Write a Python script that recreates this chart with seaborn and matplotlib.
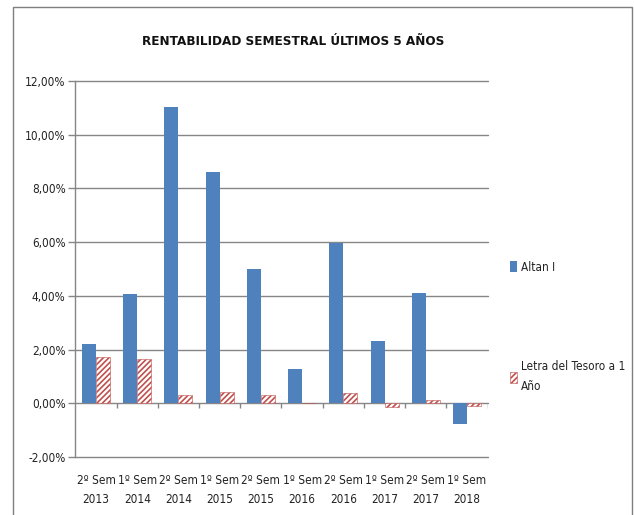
import matplotlib.pyplot as plt
import matplotlib.patches as mpatches
import pandas as pd
import seaborn as sns

# Data (% return per semester)
periods = ['2º Sem\n2013', '1º Sem\n2014', '2º Sem\n2014', '1º Sem\n2015', '2º Sem\n2015',
           '1º Sem\n2016', '2º Sem\n2016', '1º Sem\n2017', '2º Sem\n2017', '1º Sem\n2018']
altan = [2.20, 4.05, 11.02, 8.62, 4.98, 1.29, 5.98, 2.30, 4.12, -0.76]
letra = [1.73, 1.64, 0.30, 0.42, 0.30, 0.0, 0.39, -0.13, 0.12, -0.09]
series = ['Altan I', 'Letra del Tesoro a 1\nAño']
yticks = [-2, 0, 2, 4, 6, 8, 10, 12]

df = pd.DataFrame({
    'periodo': periods * 2,
    'valor': altan + letra,
    'serie': [series[0]] * len(periods) + [series[1]] * len(periods),
})

sns.set_theme(style='white')
plt.rcParams['font.family'] = ['DejaVu Sans']
plt.rcParams['font.stretch'] = 'condensed'
plt.rcParams['hatch.linewidth'] = 1.2

blue = '#4F81BD'
red = '#C0504D'
grey = '#868686'

fig = plt.figure(figsize=(6.34, 5.15), dpi=100)
ax = fig.add_axes([0.119, 0.1126, 0.650, 0.7305])

sns.barplot(data=df, x='periodo', y='valor', hue='serie', palette=[blue, 'white'],
            width=0.68, gap=0, saturation=1, ax=ax, legend=False)

# hatched red bars for the second series
for bar in ax.containers[1]:
    bar.set_edgecolor(red)
    bar.set_hatch('//////')
    bar.set_linewidth(0.4)
for bar in ax.containers[0]:
    bar.set_linewidth(0)

ax.set_ylim(-2, 12)
ax.set_xlim(-0.5, len(periods) - 0.5)
ax.set_yticks(yticks)
ax.set_yticklabels([f'{v:.2f}%'.replace('.', ',') for v in yticks])
ax.yaxis.grid(False)
for v in yticks:
    ax.axhline(v, color=grey, linewidth=1, zorder=0.5, clip_on=False)
for s in ['top', 'right', 'bottom']:
    ax.spines[s].set_visible(False)
ax.spines['left'].set_color(grey)
ax.spines['left'].set_linewidth(1)

# category tick marks on the zero line
ax.vlines([i + 0.5 for i in range(len(periods))], -0.17, 0, color=grey, linewidth=1)

ax.tick_params(axis='y', direction='out', length=5, color=grey, width=1,
               labelsize=8.5, pad=2, left=True)
ax.tick_params(axis='x', length=0, labelsize=8.5, pad=12)
ax.set_xlabel('')
ax.set_ylabel('')
for t in ax.get_xticklabels() + ax.get_yticklabels():
    t.set_color('#222222')
for t in ax.get_xticklabels():
    t.set_linespacing(1.65)

fig.text(0.463, 0.920, 'RENTABILIDAD SEMESTRAL ÚLTIMOS 5 AÑOS', ha='center', va='center',
         fontsize=9.6, fontweight='bold', color='#111111')

handles = [mpatches.Patch(facecolor=blue, edgecolor=blue, linewidth=0),
           mpatches.Patch(facecolor='white', edgecolor=red, hatch='//////', linewidth=0.4)]
leg = fig.legend(handles, series, loc='upper left', bbox_to_anchor=(0.797, 0.503),
                 frameon=False, fontsize=8.5, labelspacing=7.3, handlelength=0.55,
                 handleheight=1.0, handletextpad=0.35, borderaxespad=0)
for t in leg.get_texts():
    t.set_linespacing(1.7)
    t.set_color('#222222')

# chart border
fig.patches.append(mpatches.Rectangle((13 / 634, -0.01), (632 - 13) / 634, 1.01 - 7 / 515,
                                      transform=fig.transFigure, fill=False,
                                      edgecolor='#7f7f7f', linewidth=1))

fig.savefig('out.png', dpi=100)
